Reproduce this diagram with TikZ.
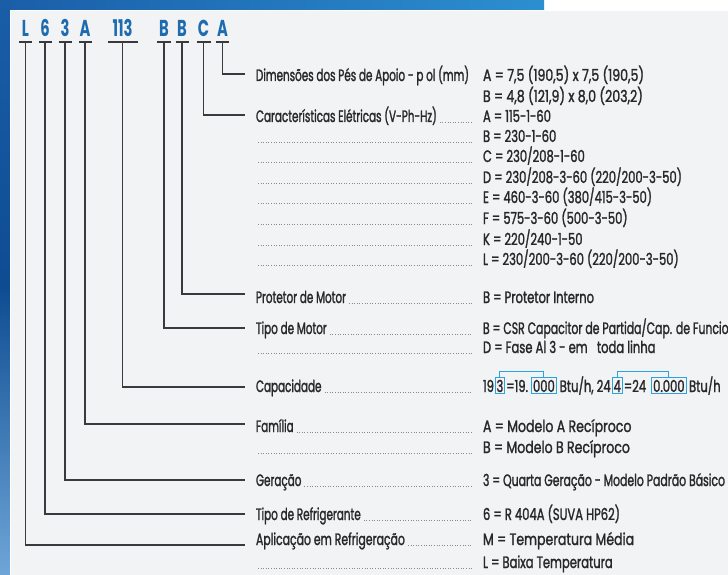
\documentclass[tikz,border=0pt]{standalone}
\usepackage{fontspec}
\setmainfont{Poppins}[FakeStretch=0.63,FakeBold=1.4]
\newfontfamily\valfont{Poppins}[FakeStretch=0.70,FakeBold=1.4]
\newfontfamily\widefont{Poppins}[FakeStretch=0.76,FakeBold=1.4]
\newfontfamily\midfont{Poppins}[FakeStretch=0.66,FakeBold=1.4]
\newfontfamily\headfont{Poppins}[FakeStretch=0.64]
\usetikzlibrary{calc}
\definecolor{panel}{HTML}{F2F3F5}
\definecolor{txt}{HTML}{28282A}
\definecolor{head}{HTML}{1E6CB0}
\definecolor{conn}{HTML}{3A3A3E}
\definecolor{boxblue}{HTML}{2AA3DE}
\definecolor{dotc}{HTML}{8A8A8E}
\definecolor{blueA}{HTML}{1A5EA8}
\definecolor{blueB}{HTML}{0E4C92}
\definecolor{blueC}{HTML}{2C8FD0}
\definecolor{blueD}{HTML}{6FA6D8}
\begin{document}
\begin{tikzpicture}[x=1pt,y=-1pt,
  lbl/.style={anchor=base west,inner sep=0pt,outer sep=0pt,text=txt,font=\fontsize{16.5}{18}\selectfont},
  val/.style={lbl,font=\valfont\fontsize{16.5}{18}\selectfont},
  valw/.style={lbl,font=\widefont\fontsize{16.5}{18}\selectfont},
  valm/.style={lbl,font=\midfont\fontsize{16.5}{18}\selectfont},
  code/.style={anchor=base,inner sep=0pt,outer sep=0pt,text=head,font=\headfont\fontsize{23}{26}\selectfont\bfseries},
  link/.style={draw=conn,line width=1.2pt},
  dots/.style={draw=dotc,line width=0.9pt,dash pattern=on 0.8pt off 1.8pt},
  hl/.style={draw=boxblue,line width=0.9pt}]
\useasboundingbox (0,0) rectangle (728,575);
\begin{scope}
\clip (0,0) rectangle (728,575);
% background
\fill[white] (0,0) rectangle (728,575);
\shade[left color=blueA,right color=blueC] (0,0) rectangle (544,10);
\shade[top color=blueA,bottom color=blueD,middle color=blueB] (0,0) rectangle (10,575);
\fill[panel] (10,10) rectangle (728,575);
\draw[white,line width=0.8pt] (10.4,575) -- (10.4,10.4) -- (728,10.4);

% code letters
\node[code] (cL)  at (25.5,37) {L};
\node[code] (c6)  at (45,37) {6};
\node[code] (c3)  at (65,37) {3};
\node[code] (cA)  at (85,37) {A};
\node[code] (c113) at (122.5,37) {113};
\node[code] (cB1) at (164,37) {B};
\node[code] (cB2) at (182,37) {B};
\node[code] (cC)  at (203.5,37) {C};
\node[code] (cA2) at (222.5,37) {A};

% connector ends
\coordinate (eA2) at (245,74);
\coordinate (eC)  at (245,115);
\coordinate (eB2) at (245,294);
\coordinate (eB1) at (245,328);
\coordinate (e113) at (245,387);
\coordinate (eA)  at (245,424);
\coordinate (e3)  at (245,480);
\coordinate (e6)  at (245,514);
\coordinate (eL)  at (245,545);

\foreach \n/\e/\w in {cL/eL/6.5,c6/e6/6.5,c3/e3/6.5,cA/eA/6.5,c113/e113/15,cB1/eB1/7,cB2/eB2/6.5,cC/eC/7,cA2/eA2/6.5}{
  \draw[link] ([xshift=-\w pt,yshift=-5pt]\n.base) -- ([xshift=\w pt,yshift=-5pt]\n.base)
              ([yshift=-5pt]\n.base) |- (\e);
}

\coordinate (dend) at (472,0);

% labels (left column)
\node[lbl] (l1) at (256,81) {Dimensões dos Pés de Apoio - p ol (mm)};
\node[lbl] (l2) at (256,122) {Características Elétricas (V-Ph-Hz)};
\node[lbl] (l3) at (256,303) {Protetor de Motor};
\node[lbl] (l4) at (256,334) {Tipo de Motor};
\node[lbl] (l5) at (256,392) {Capacidade};
\node[lbl] (l6) at (256,432) {Família};
\node[lbl] (l7) at (256,486) {Geração};
\node[lbl] (l8) at (256,520) {Tipo de Refrigerante};
\node[valm] (l9) at (256,545) {Aplicação em Refrigeração};

\foreach \n in {l2,l3,l4,l5,l6,l7,l8,l9}{
  \draw[dots] ([xshift=3pt]\n.base east) -- (\n.base east -| dend);
}
\foreach \y in {142,162,183,203,224,245,265,353,453,568}{
  \draw[dots] (258,\y) -- (472,\y);
}

% values (right column)
\node[valw] (v1)  at (483,81)  {A = 7,5 (190,5) x 7,5 (190,5)};
\node[valw] (v2)  at (483,102) {B = 4,8 (121,9) x 8,0 (203,2)};
\node[val] (v3)  at (483,122) {A = 115-1-60};
\node[val] (v4)  at (483,142) {B = 230-1-60};
\node[val] (v5)  at (483,162) {C = 230/208-1-60};
\node[val] (v6)  at (483,183) {D = 230/208-3-60 (220/200-3-50)};
\node[val] (v7)  at (483,203) {E = 460-3-60 (380/415-3-50)};
\node[val] (v8)  at (483,224) {F = 575-3-60 (500-3-50)};
\node[val] (v9)  at (483,245) {K = 220/240-1-50};
\node[val] (v10) at (483,265) {L = 230/200-3-60 (220/200-3-50)};
\node[val] (v11) at (483,303) {B = Protetor Interno};
\node[valm] (v12) at (483,334) {B = CSR Capacitor de Partida/Cap. de Funcionamento};
\node[val] (v13) at (483,353) {D = Fase Al 3 - em\ \ \ toda linha};
\node[valw] (v15) at (483,432) {A = Modelo A Recíproco};
\node[valw] (v16) at (483,453) {B = Modelo B Recíproco};
\node[valm] (v17) at (483,486) {3 = Quarta Geração - Modelo Padrão Básico};
\node[val] (v18) at (483,520) {6 = R 404A (SUVA HP62)};
\node[valw] (v19) at (483,545) {M = Temperatura Média};
\node[val] (v20) at (483,568) {L = Baixa Temperatura};

% capacity row
\node[val] (k1) at (483,392) {19};
\node[val] (k2) at ([xshift=2.5pt]k1.base east) {3};
\node[val] (k3) at ([xshift=3pt]k2.base east) {=19.};
\node[val] (k4) at ([xshift=5pt]k3.base east) {000};
\node[val] (k5) at ([xshift=5pt]k4.base east) {Btu/h, 24};
\node[val] (k6) at ([xshift=3pt]k5.base east) {4};
\node[val] (k7) at ([xshift=3pt]k6.base east) {=24};
\node[val] (k8) at ([xshift=7pt]k7.base east) {0.000};
\node[val] (k9) at ([xshift=4.5pt]k8.base east) {Btu/h};
\foreach \n in {k2,k4,k6,k8}{
  \draw[hl] ($(\n.base west)+(-1.5,1.5)$) rectangle ($(\n.base east)+(1.5,-15)$);
}
\draw[hl] ($(k2.base)+(0,-15)$) -- ++(0,-6) -| ($(k4.base)+(0,-15)$);
\draw[hl] ($(k6.base)+(0,-15)$) -- ++(0,-6) -| ($(k8.base)+(0,-15)$);
\end{scope}
\end{tikzpicture}
\end{document}
